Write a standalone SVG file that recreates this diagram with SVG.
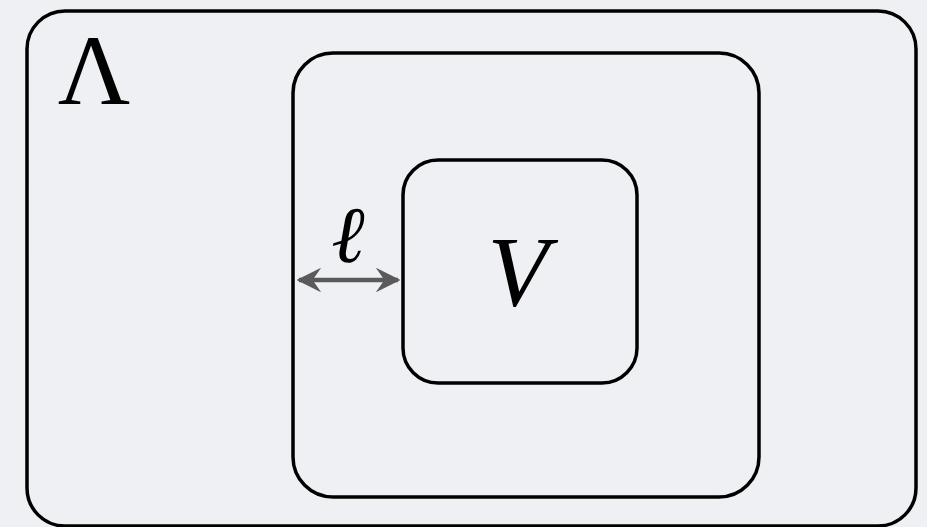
<svg xmlns="http://www.w3.org/2000/svg" width="927" height="527" viewBox="0 0 927 527">
<style>
.box{fill:none;stroke:#000;stroke-width:3.5}
.conn{stroke:#5a5a5a;stroke-width:4.5;fill:none}
.m{font-family:"Liberation Serif","Times New Roman",serif;fill:#000}
.l{font-family:"DejaVu Serif",serif;fill:#000}
</style>
<defs>
<marker id="ah" viewBox="0 0 10 10" refX="9" refY="5" markerWidth="5.5" markerHeight="5.5" orient="auto-start-reverse" markerUnits="strokeWidth">
<path d="M0,0 L10,5 L0,10 L3.5,5 Z" fill="#5a5a5a"/>
</marker>
</defs>
<rect width="927" height="527" fill="#eff0f3"/>
<g id="lambda">
<rect class="box" x="27" y="11" width="889" height="515" rx="38"/>
<text class="m" x="94" y="104" font-size="100" text-anchor="middle">Λ</text>
</g>
<g id="inner">
<rect class="box" x="293" y="53" width="466" height="444" rx="40"/>
</g>
<g id="V">
<rect class="box" x="403" y="160" width="234" height="223" rx="35"/>
<text class="m" x="518" y="305" font-size="100" font-style="italic" text-anchor="middle">V</text>
</g>
<g id="connectors">
<line class="conn" x1="299" y1="280" x2="398" y2="280" marker-start="url(#ah)" marker-end="url(#ah)"/>
<text class="l" x="348" y="262" font-size="80" font-style="italic" text-anchor="middle">ℓ</text>
</g>
</svg>
